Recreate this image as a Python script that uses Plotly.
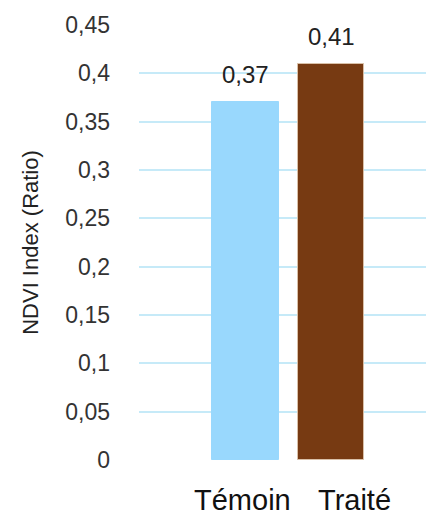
import plotly.graph_objects as go

# NDVI by treatment
categories = ["Témoin", "Traité"]
ndvi_values = [0.37, 0.41]
value_labels = ["0,37", "0,41"]
bar_colors = ["#99D8FD", "#773A12"]
tick_vals = [0, 0.05, 0.1, 0.15, 0.2, 0.25, 0.3, 0.35, 0.4, 0.45]
tick_text = ["0", "0,05", "0,1", "0,15", "0,2", "0,25", "0,3", "0,35", "0,4", "0,45"]

FONT = "Liberation Sans, Arial, sans-serif"

fig = go.Figure()
fig.add_trace(go.Bar(
    x=categories,
    y=ndvi_values,
    width=0.78,
    marker=dict(color=bar_colors, line=dict(color=["#99D8FD", "#D9C0A8"], width=1)),
    showlegend=False,
))

# value labels above the bars
for cat, val, lab in zip(categories, ndvi_values, value_labels):
    fig.add_annotation(
        x=cat, y=val, text=lab, showarrow=False,
        yanchor="bottom", yshift=12,
        font=dict(family=FONT, size=24, color="#222222"),
    )

# category labels under the axis
for cat, shift in zip(categories, [-3, 23]):
    fig.add_annotation(
        x=cat, y=0, yref="paper", text=cat, showarrow=False,
        yanchor="top", yshift=-22, xshift=shift,
        font=dict(family=FONT, size=29, color="#111111"),
    )

fig.update_layout(
    width=426, height=519,
    margin=dict(l=139, r=0, t=25, b=59),
    paper_bgcolor="white", plot_bgcolor="white",
    bargap=0,
)
fig.update_xaxes(
    type="category", range=[-1.246, 2.111],
    showticklabels=False, showgrid=False, zeroline=False, showline=False,
)
fig.update_yaxes(
    range=[0, 0.45], tickvals=tick_vals, ticktext=tick_text,
    showgrid=True, gridcolor="#C6EAF8", gridwidth=2,
    zeroline=False, showline=False, ticks="", ticklabelstandoff=28,
    tickfont=dict(family=FONT, size=23, color="#333333"),
    title=dict(text="NDVI Index (Ratio)", standoff=20,
               font=dict(family=FONT, size=22, color="#222222")),
)

fig.write_html("out.html")
